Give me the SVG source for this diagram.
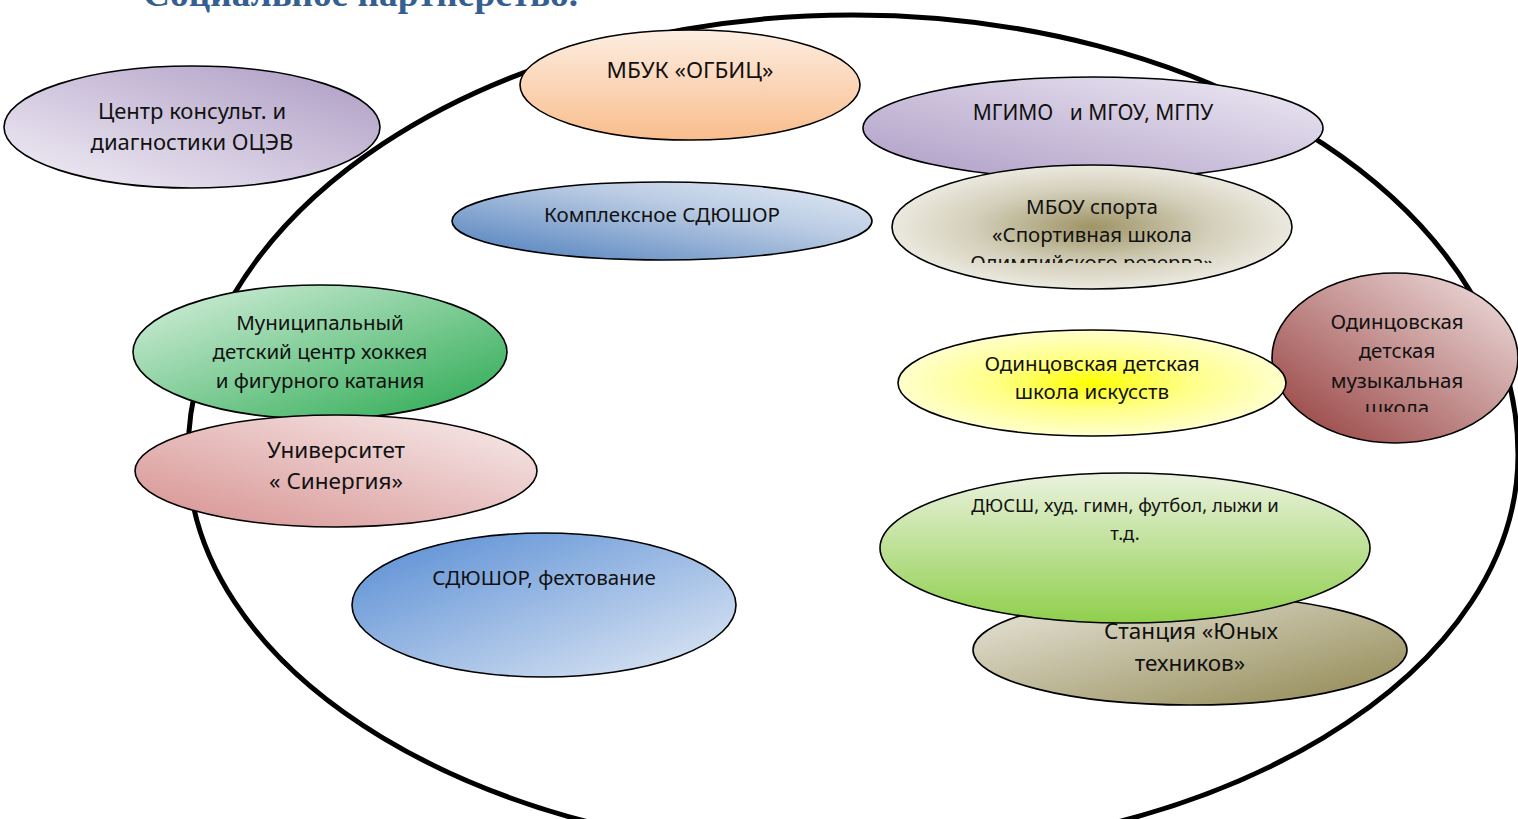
<svg xmlns="http://www.w3.org/2000/svg" width="1518" height="819" viewBox="0 0 1518 819">
<style>
.n{stroke:#000;stroke-width:1.6}
.t{font-family:"Noto Sans","Open Sans",sans-serif;fill:#111;text-anchor:middle}
.title{font-family:"Liberation Serif",serif;font-weight:bold;fill:#365f91}
</style>
<defs>
<linearGradient id="gCentr" x1="0" y1="1" x2="1" y2="0"><stop offset="0" stop-color="#f3f0f7"/><stop offset="1" stop-color="#ac9ac3"/></linearGradient>
<linearGradient id="gMbuk" x1="0" y1="0" x2="0" y2="1"><stop offset="0" stop-color="#fdeee2"/><stop offset="1" stop-color="#f9bd8c"/></linearGradient>
<linearGradient id="gMgimo" x1="1" y1="0" x2="0" y2="1"><stop offset="0" stop-color="#eeeaf4"/><stop offset="1" stop-color="#ad9cc5"/></linearGradient>
<linearGradient id="gKompl" x1="0" y1="1" x2="1" y2="0"><stop offset="0" stop-color="#4a7cbb"/><stop offset="0.6" stop-color="#b7c9e2"/><stop offset="1" stop-color="#e6edf6"/></linearGradient>
<radialGradient id="gMbou" cx="0.5" cy="0.5" r="0.5"><stop offset="0" stop-color="#9f9466"/><stop offset="0.6" stop-color="#d3cfba"/><stop offset="1" stop-color="#ebe9df"/></radialGradient>
<linearGradient id="gMun" x1="0" y1="0" x2="1" y2="1"><stop offset="0" stop-color="#d9f1e0"/><stop offset="1" stop-color="#27a84e"/></linearGradient>
<linearGradient id="gSin" x1="1" y1="0" x2="0" y2="1"><stop offset="0" stop-color="#f8eded"/><stop offset="1" stop-color="#d6908f"/></linearGradient>
<linearGradient id="gFeh" x1="0" y1="0" x2="1" y2="1"><stop offset="0" stop-color="#558bd3"/><stop offset="1" stop-color="#e2eaf5"/></linearGradient>
<radialGradient id="gIsk" cx="0.5" cy="0.5" r="0.5"><stop offset="0" stop-color="#ffff00"/><stop offset="0.5" stop-color="#ffff88"/><stop offset="1" stop-color="#ffffcc"/></radialGradient>
<linearGradient id="gMuz" x1="1" y1="0" x2="0" y2="1"><stop offset="0" stop-color="#f2e4e4"/><stop offset="1" stop-color="#923a38"/></linearGradient>
<linearGradient id="gDyu" x1="0" y1="0" x2="0" y2="1"><stop offset="0" stop-color="#ebf2df"/><stop offset="1" stop-color="#8fcf4c"/></linearGradient>
<linearGradient id="gSt" x1="0" y1="0" x2="1" y2="1"><stop offset="0" stop-color="#ebe9df"/><stop offset="1" stop-color="#8f8650"/></linearGradient>
<clipPath id="cMbou"><rect x="880" y="160" width="420" height="103"/></clipPath>
<clipPath id="cMuz"><rect x="1260" y="270" width="258" height="142"/></clipPath>
</defs>
<rect width="1518" height="819" fill="#fff"/>
<text class="title" x="143" y="6" font-size="36" textLength="435" lengthAdjust="spacingAndGlyphs">Социальное партнерство.</text>
<g id="connectors">
<path id="outer" d="M 188,455 A 665 440 0 0 1 1518,455 A 665 400 0 0 1 188,455 Z" fill="none" stroke="#000" stroke-width="5"/>
</g>
<g id="n-centr"><ellipse class="n" cx="192" cy="127" rx="188" ry="61" fill="url(#gCentr)"/>
<text class="t" font-size="22" x="192" y="119">Центр консульт. и</text><text class="t" font-size="22" x="192" y="150">диагностики ОЦЭВ</text></g>
<g id="n-mbuk"><ellipse class="n" cx="690" cy="85" rx="170" ry="55" fill="url(#gMbuk)"/>
<text class="t" font-size="22.5" x="690" y="78">МБУК «ОГБИЦ»</text></g>
<g id="n-mgimo"><ellipse class="n" cx="1093" cy="128" rx="230" ry="51" fill="url(#gMgimo)"/>
<text class="t" font-size="21" x="1093" y="120" xml:space="preserve" style="white-space:pre">МГИМО   и МГОУ, МГПУ</text></g>
<g id="n-kompl"><ellipse class="n" cx="662" cy="221" rx="210" ry="39" fill="url(#gKompl)"/>
<text class="t" font-size="20.5" x="662" y="222">Комплексное СДЮШОР</text></g>
<g id="n-mbou"><ellipse class="n" cx="1092" cy="227" rx="200" ry="62" fill="url(#gMbou)"/>
<g clip-path="url(#cMbou)"><text class="t" font-size="20.5" x="1092" y="214">МБОУ спорта</text><text class="t" font-size="20.5" x="1092" y="242">«Спортивная школа</text><text class="t" font-size="20.5" x="1092" y="270">Олимпийского резерва»</text></g></g>
<g id="n-mun"><ellipse class="n" cx="320" cy="352" rx="187" ry="67" fill="url(#gMun)"/>
<text class="t" font-size="20.5" x="320" y="330">Муниципальный</text><text class="t" font-size="20.5" x="320" y="359">детский центр хоккея</text><text class="t" font-size="20.5" x="320" y="388">и фигурного катания</text></g>
<g id="n-sin"><ellipse class="n" cx="336" cy="471" rx="201" ry="56" fill="url(#gSin)"/>
<text class="t" font-size="22.5" x="336" y="458">Университет</text><text class="t" font-size="22.5" x="336" y="489">« Синергия»</text></g>
<g id="n-feh"><ellipse class="n" cx="544" cy="605" rx="192" ry="72" fill="url(#gFeh)"/>
<text class="t" font-size="20.5" x="544" y="585">СДЮШОР, фехтование</text></g>
<g id="n-muz"><ellipse class="n" cx="1395" cy="358" rx="123" ry="85" fill="url(#gMuz)"/>
<g clip-path="url(#cMuz)"><text class="t" font-size="20.5" x="1397" y="329">Одинцовская</text><text class="t" font-size="20.5" x="1397" y="358">детская</text><text class="t" font-size="20.5" x="1397" y="388">музыкальная</text><text class="t" font-size="20.5" x="1397" y="415">школа</text></g></g>
<g id="n-isk"><ellipse class="n" cx="1092" cy="383" rx="194" ry="53" fill="url(#gIsk)"/>
<text class="t" font-size="20.5" x="1092" y="371">Одинцовская детская</text><text class="t" font-size="20.5" x="1092" y="399">школа искусств</text></g>
<g id="n-st"><ellipse class="n" cx="1190" cy="650" rx="217" ry="55" fill="url(#gSt)"/>
<text class="t" font-size="22.5" x="1191" y="639">Станция «Юных</text><text class="t" font-size="22.5" x="1190" y="671">техников»</text></g>
<g id="n-dyu"><ellipse class="n" cx="1125" cy="548" rx="245" ry="75" fill="url(#gDyu)"/>
<text class="t" font-size="18.5" x="1125" y="512">ДЮСШ, худ. гимн, футбол, лыжи и</text><text class="t" font-size="18.5" x="1125" y="540">т.д.</text></g>
</svg>
